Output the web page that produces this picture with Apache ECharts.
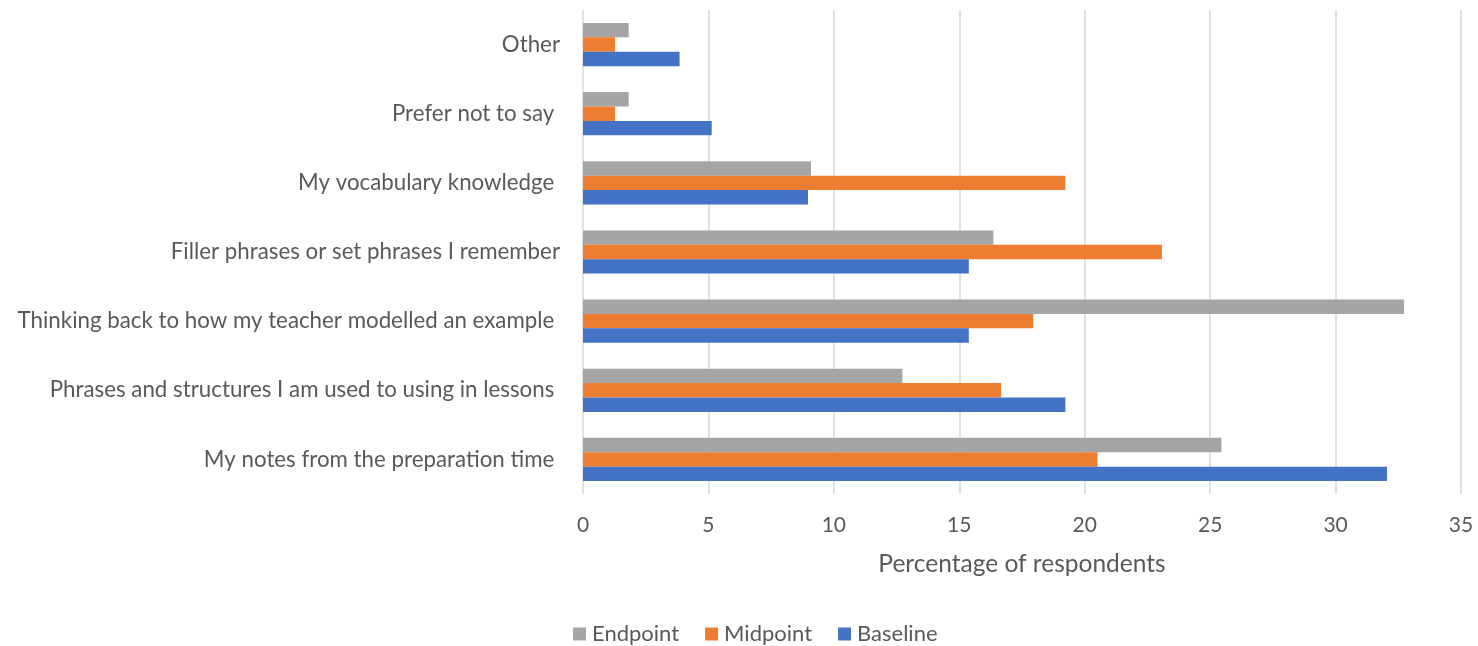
<!DOCTYPE html>
<html>
<head>
<meta charset="utf-8">
<style>
  html, body { margin: 0; padding: 0; background: #fff; }
  #chart { width: 1478px; height: 646px; }
</style>
<script src="https://cdn.jsdelivr.net/npm/echarts@6/dist/echarts.min.js"></script>
</head>
<body>
<div id="chart"></div>
<script>
// Categories listed bottom-to-top along the vertical axis
const categories = [
  'My notes from the preparation time ',
  'Phrases and structures I am used to using in lessons ',
  'Thinking back to how my teacher modelled an example ',
  'Filler phrases or set phrases I remember',
  'My vocabulary knowledge ',
  'Prefer not to say ',
  'Other'
];

// Percentage of respondents per survey stage
const baseline = [32.05, 19.23, 15.38, 15.38, 8.97, 5.13, 3.85];
const midpoint = [20.51, 16.67, 17.95, 23.08, 19.23, 1.28, 1.28];
const endpoint = [25.45, 12.73, 32.73, 16.36, 9.09, 1.82, 1.82];

const xTicks = { min: 0, max: 35, interval: 5 };

const FONT = 'Lato';
const TEXT = '#595959';

const chart = echarts.init(document.getElementById('chart'), null, { renderer: 'canvas' });

const barBase = {
  type: 'bar',
  barGap: '0%',
  barCategoryGap: '37.5%',
  silent: true
};

chart.setOption({
  animation: false,
  textStyle: { fontFamily: FONT },
  grid: { left: 583, right: 17, top: 10, bottom: 152, containLabel: false },
  legend: {
    data: ['Endpoint', 'Midpoint', 'Baseline'],
    left: 568,
    top: 618,
    padding: 5,
    itemWidth: 13,
    itemHeight: 13,
    itemGap: 26,
    icon: 'rect',
    textStyle: { color: TEXT, fontSize: 22, fontFamily: FONT, padding: [0, 0, 0, 1] }
  },
  xAxis: {
    type: 'value',
    min: xTicks.min,
    max: xTicks.max,
    interval: xTicks.interval,
    name: 'Percentage of respondents',
    nameLocation: 'middle',
    nameGap: 58,
    nameTextStyle: { color: TEXT, fontSize: 24.5, fontFamily: FONT },
    axisLine: { show: false },
    axisTick: { show: false },
    axisLabel: { color: TEXT, fontSize: 21, fontFamily: FONT, margin: 21 },
    splitLine: { show: true, lineStyle: { color: '#d9d9d9', width: 1.5 } }
  },
  yAxis: {
    type: 'category',
    data: categories,
    axisLine: { show: false },
    axisTick: { show: false },
    axisLabel: { color: TEXT, fontSize: 22.3, fontFamily: FONT, margin: 23 }
  },
  series: [
    Object.assign({ name: 'Endpoint', data: endpoint, itemStyle: { color: '#A5A5A5' } }, barBase),
    Object.assign({ name: 'Midpoint', data: midpoint, itemStyle: { color: '#ED7D31' } }, barBase),
    Object.assign({ name: 'Baseline', data: baseline, itemStyle: { color: '#4472C4' } }, barBase)
  ]
});
</script>
</body>
</html>
